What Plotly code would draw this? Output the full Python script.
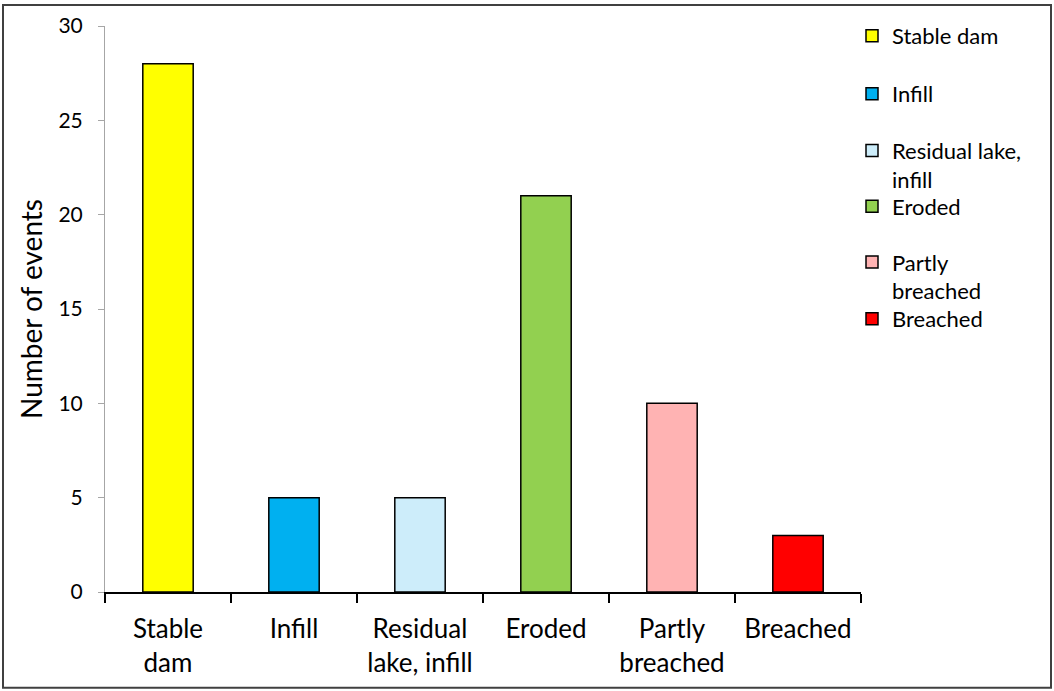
import plotly.graph_objects as go

# Outcome categories (axis labels and legend names) and event counts
categories = ["Stable<br>dam", "Infill", "Residual<br>lake, infill", "Eroded", "Partly<br>breached", "Breached"]
legend_names = ["Stable dam", "Infill", "Residual lake,<br>infill", "Eroded", "Partly<br>breached", "Breached"]
counts = [28, 5, 5, 21, 10, 3]
colors = ["#FFFF00", "#00B0F0", "#CDEDFA", "#92D050", "#FFB3B3", "#FF0000"]
y_ticks = [0, 5, 10, 15, 20, 25, 30]

FONT = "Lato, Open Sans, sans-serif"

W, H = 1054, 691
ml, mr, mt, mb = 105, 193, 24, 99
pw, ph = W - ml - mr, H - mt - mb


def px_x(p):
    return (p - ml) / pw


def px_y(p):
    return (H - mb - p) / ph


# vertical pixel of the first text line of each legend entry
legend_rows = [37, 95, 152, 208, 264, 321]
LEG_FS = 22

fig = go.Figure()
layout_legends = {}
for i, (cat, name, val, col, row) in enumerate(zip(categories, legend_names, counts, colors, legend_rows)):
    key = "legend" if i == 0 else f"legend{i + 1}"
    fig.add_trace(go.Bar(
        x=[cat], y=[val], name=name, width=0.4, legend=key,
        marker=dict(color=col, line=dict(color="black", width=1.5)),
    ))
    layout_legends[key] = dict(
        x=px_x(852), xanchor="left", y=px_y(row - 24), yanchor="top",
        font=dict(family=FONT, size=LEG_FS, color="black"),
        valign="top", itemwidth=30, bgcolor="rgba(0,0,0,0)",
    )

fig.update_layout(
    width=W, height=H,
    margin=dict(l=ml, r=mr, t=mt, b=mb),
    paper_bgcolor="white", plot_bgcolor="white",
    barmode="overlay",
    font=dict(family=FONT, size=22, color="black"),
    showlegend=True,
    xaxis=dict(
        type="category", categoryorder="array", categoryarray=categories,
        showline=True, linecolor="black", linewidth=2,
        ticks="outside", tickson="boundaries", ticklen=9, tickwidth=2, tickcolor="black",
        tickfont=dict(family=FONT, size=26, color="black"),
        ticklabelstandoff=13,
        showgrid=False, zeroline=False,
    ),
    yaxis=dict(
        range=[0, 30], tickvals=y_ticks,
        showline=True, linecolor="#A6A6A6", linewidth=1,
        ticks="outside", ticklen=6, tickwidth=1, tickcolor="#A6A6A6",
        tickfont=dict(family=FONT, size=21, color="black"),
        ticklabelstandoff=11,
        showgrid=False, zeroline=False,
        title=dict(text="Number of events", font=dict(family=FONT, size=28, color="black"), standoff=7),
    ),
    shapes=[dict(
        type="rect", xref="paper", yref="paper",
        x0=px_x(3), x1=px_x(1051), y0=px_y(688), y1=px_y(3),
        line=dict(color="#404040", width=2), fillcolor="rgba(0,0,0,0)", layer="below",
    )],
    **layout_legends,
)

fig.write_html("out.html")
